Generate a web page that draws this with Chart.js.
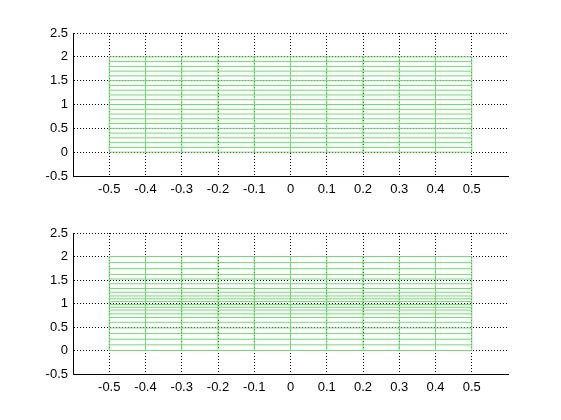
<!DOCTYPE html>
<html>
<head>
<meta charset="utf-8">
<script src="https://cdn.jsdelivr.net/npm/chart.js@4"></script>
<style>
  body { margin: 0; background: #fff; }
  .box { position: absolute; left: 0; width: 561px; }
</style>
</head>
<body>
<div class="box" style="top:0;height:210px"><canvas id="top"></canvas></div>
<div class="box" style="top:200px;height:220px"><canvas id="bottom"></canvas></div>
<script>
// mesh columns (x) and rows (y) of each subplot
const xGrid = [-0.5, -0.4, -0.3, -0.2, -0.1, 0, 0.1, 0.2, 0.3, 0.4, 0.5];
const topY = [0, 0.1, 0.2, 0.3, 0.4, 0.5, 0.6, 0.7, 0.8, 0.9, 1, 1.1, 1.2, 1.3, 1.4, 1.5, 1.6, 1.7, 1.8, 1.9, 2];
const bottomY = [0, 0.12, 0.24, 0.36, 0.48, 0.6, 0.7, 0.78, 0.86, 0.92, 0.98, 1.04, 1.1, 1.16, 1.24, 1.32, 1.42, 1.52, 1.62, 1.74, 1.87, 2];
const yMin = 0, yMax = 2;
const xTicks = [-0.5, -0.4, -0.3, -0.2, -0.1, 0, 0.1, 0.2, 0.3, 0.4, 0.5];
const yTicks = [-0.5, 0, 0.5, 1, 1.5, 2, 2.5];

Chart.defaults.font.family = "Liberation Sans";
Chart.defaults.font.size = 13;
Chart.defaults.color = "#000";

const meshColor = "#6fdc6f";

function meshDatasets(ys) {
  const sets = [];
  xGrid.forEach(x => sets.push({ data: [{x: x, y: yMin}, {x: x, y: yMax}] }));
  ys.forEach(y => sets.push({ data: [{x: xGrid[0], y: y}, {x: xGrid[xGrid.length - 1], y: y}] }));
  return sets.map(s => Object.assign(s, {
    showLine: true,
    borderColor: meshColor,
    borderWidth: 1,
    pointRadius: 0,
  }));
}

function fmt(v) {
  return String(Math.round(v * 10) / 10);
}

function makeChart(id, ys, xAxisHeight) {
  new Chart(document.getElementById(id), {
    type: "scatter",
    data: { datasets: meshDatasets(ys) },
    options: {
      responsive: true,
      maintainAspectRatio: false,
      animation: false,
      layout: { padding: { left: 0, right: 53, top: 33, bottom: 0 } },
      plugins: { legend: { display: false }, tooltip: { enabled: false } },
      scales: {
        x: {
          type: "linear",
          min: -0.6,
          max: 0.6,
          afterBuildTicks: s => { s.ticks = xTicks.map(v => ({ value: v })); },
          afterFit: s => { s.height = xAxisHeight; },
          grid: { color: "#000", lineWidth: 1, drawTicks: false },
          border: { display: true, color: "#000", width: 1, dash: [1, 2] },
          ticks: { padding: 6, maxRotation: 0, autoSkip: false, callback: v => fmt(v) },
        },
        y: {
          type: "linear",
          min: -0.5,
          max: 2.5,
          afterBuildTicks: s => { s.ticks = yTicks.map(v => ({ value: v })); },
          afterFit: s => { s.width = 73; },
          grid: { color: "#000", lineWidth: 1, drawTicks: false },
          border: { display: true, color: "#000", width: 1, dash: [1, 2] },
          ticks: { padding: 5, autoSkip: false, callback: v => fmt(v) },
        },
      },
    },
  });
}

makeChart("top", topY, 34);
makeChart("bottom", bottomY, 46);
</script>
</body>
</html>
